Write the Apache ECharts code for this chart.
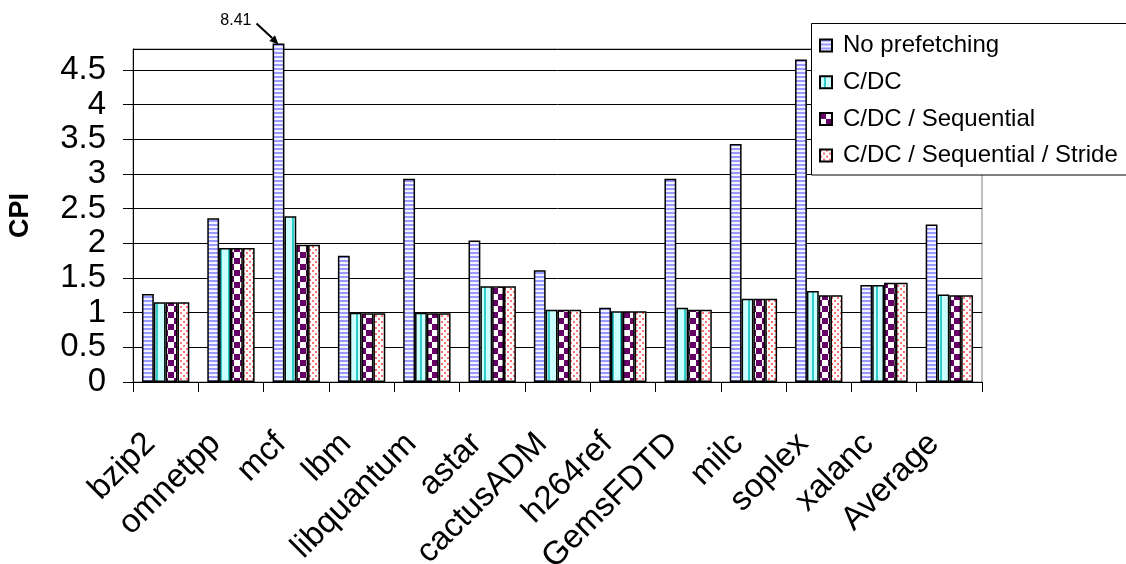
<!DOCTYPE html>
<html><head><meta charset="utf-8">
<script src="https://cdn.jsdelivr.net/npm/echarts@6/dist/echarts.min.js"></script>
<style>html,body{margin:0;padding:0;background:#fff}#c{width:1126px;height:564px}</style>
</head><body><div id="c"></div>
<script>
const categories = ['bzip2','omnetpp','mcf','lbm','libquantum','astar','cactusADM','h264ref','GemsFDTD','milc','soplex','xalanc','Average'];
const seriesNames = ['No prefetching','C/DC','C/DC / Sequential','C/DC / Sequential / Stride'];
const noPrefetching = [1.27,2.36,8.41,1.82,2.93,2.04,1.61,1.07,2.93,3.43,4.65,1.40,2.27];
const cdc          = [1.15,1.93,2.39,1.00,1.00,1.38,1.04,1.02,1.07,1.20,1.31,1.40,1.26];
const cdcSeq       = [1.15,1.93,1.98,0.99,0.99,1.38,1.04,1.02,1.04,1.20,1.25,1.43,1.25];
const cdcSeqStride = [1.15,1.93,1.98,0.99,0.99,1.38,1.04,1.02,1.04,1.20,1.25,1.43,1.25];
const yMin = 0, yMax = 4.8, yStep = 0.5;
const breakValue = 4.88;   // bars above the axis maximum are drawn broken at this value

const FONT = 'Liberation Sans, Arial, sans-serif';

function makePattern(w, h, draw) {
  const c = document.createElement('canvas'); c.width = w; c.height = h;
  const g = c.getContext('2d'); draw(g);
  return { image: c, repeat: 'repeat' };
}
const patNP = makePattern(4, 4, g => { g.fillStyle = '#f4f4ff'; g.fillRect(0,0,4,4); g.fillStyle = '#9999ff'; g.fillRect(0,0,4,2); });
const patCDC = makePattern(8, 8, g => { g.fillStyle = '#ccffff'; g.fillRect(0,0,8,8); g.fillStyle = '#33cccc'; g.fillRect(4,0,2,8); });
const patSeq = makePattern(12, 12, g => { g.fillStyle = '#fff'; g.fillRect(0,0,12,12); g.fillStyle = '#660066'; g.fillRect(0,0,6,6); g.fillRect(6,6,6,6); });
const patStride = makePattern(6, 6, g => { g.fillStyle = '#fff'; g.fillRect(0,0,6,6); g.fillStyle = '#ff7070';
  g.fillRect(0,0,2,2); g.fillRect(3,3,2,2); });
const patterns = [patNP, patCDC, patSeq, patStride];
const values = [noPrefetching, cdc, cdcSeq, cdcSeqStride];

const chart = echarts.init(document.getElementById('c'), null, { renderer: 'canvas' });

const nTicks = Math.round((yMax - yMin) / yStep);
const splitColors = [];
for (let i = 0; i <= nTicks + 1; i++) splitColors.push(i > nTicks ? '#808080' : '#000');

const series = values.map((arr, si) => ({
  name: seriesNames[si],
  type: 'bar',
  barGap: '0%',
  barCategoryGap: '27.5%',
  clip: false,
  itemStyle: { color: patterns[si], borderColor: '#000', borderWidth: 1.5 },
  emphasis: { disabled: true },
  data: arr.map(v => v > yMax ? breakValue : v)
}));

chart.setOption({
  animation: false,
  backgroundColor: '#fff',
  grid: { left: 133, right: 144, top: 49, bottom: 182, outerBoundsMode: 'none',
          show: true, borderColor: '#808080', borderWidth: 1, backgroundColor: 'transparent' },
  legend: {
    orient: 'vertical', left: 811, top: 23, z: 5,
    padding: [9.5, 0, 8.5, 8], itemGap: 10.7, itemWidth: 12, itemHeight: 12,
    icon: 'rect',
    selectedMode: false,
    textStyle: { fontFamily: FONT, fontSize: 24, color: '#000', lineHeight: 26, padding: [0,0,0,6] },
    data: seriesNames
  },
  xAxis: {
    type: 'category', data: categories,
    axisLine: { lineStyle: { color: '#000', width: 1 } },
    axisTick: { show: true, length: 10, interval: 0, lineStyle: { color: '#000' } },
    axisLabel: { interval: 0, rotate: 45, fontFamily: FONT, fontSize: 33, color: '#000', margin: 41, padding: [0, 22, 0, 0] }
  },
  yAxis: {
    type: 'value', min: yMin, max: yMax, interval: yStep,
    name: 'CPI', nameLocation: 'middle', nameRotate: 90, nameGap: 99,
    nameTextStyle: { fontFamily: FONT, fontSize: 27, fontWeight: 'bold', color: '#000' },
    axisLine: { show: true, lineStyle: { color: '#000', width: 1 } },
    axisTick: { show: true, length: 10, lineStyle: { color: '#000' } },
    axisLabel: { fontFamily: FONT, fontSize: 33, color: '#000', margin: 27, showMaxLabel: false },
    splitLine: { show: true, lineStyle: { color: splitColors, width: 1 } }
  },
  series: series
});

// legend frame (extends past the right edge of the picture, as in the source)
const graphics = [
  { type: 'rect', z: 4, shape: { x: 811.5, y: 23.5, width: 400, height: 151.5 },
    style: { fill: '#fff', stroke: '#000', lineWidth: 1 } }
];
// annotation for the broken bar(s)
const model = chart.getModel();
const npData = model.getSeriesByIndex(0).getData();
noPrefetching.forEach((v, i) => {
  if (v <= yMax) return;
  const lay = npData.getItemLayout(i);
  const tipX = lay.x + lay.width / 2;
  const tipY = lay.y + lay.height + 1;
  const sx = tipX - 22, sy = tipY - 21;
  const ux = 0.7071, uy = 0.7071, hl = 9, hw = 4;
  const bx = tipX - ux * hl, by = tipY - uy * hl;
  graphics.push({ type: 'line', z: 6, shape: { x1: sx, y1: sy, x2: bx, y2: by }, style: { stroke: '#000', lineWidth: 2 } });
  graphics.push({ type: 'polygon', z: 6, shape: { points: [[tipX, tipY], [bx - uy * hw, by + ux * hw], [bx + uy * hw, by - ux * hw]] }, style: { fill: '#000' } });
  graphics.push({ type: 'text', z: 6, x: sx - 5, y: sy - 3, style: { text: String(v), font: '16px ' + FONT, fill: '#000', textAlign: 'right', textVerticalAlign: 'middle' } });
});
chart.setOption({ graphic: graphics });
</script>
</body></html>
